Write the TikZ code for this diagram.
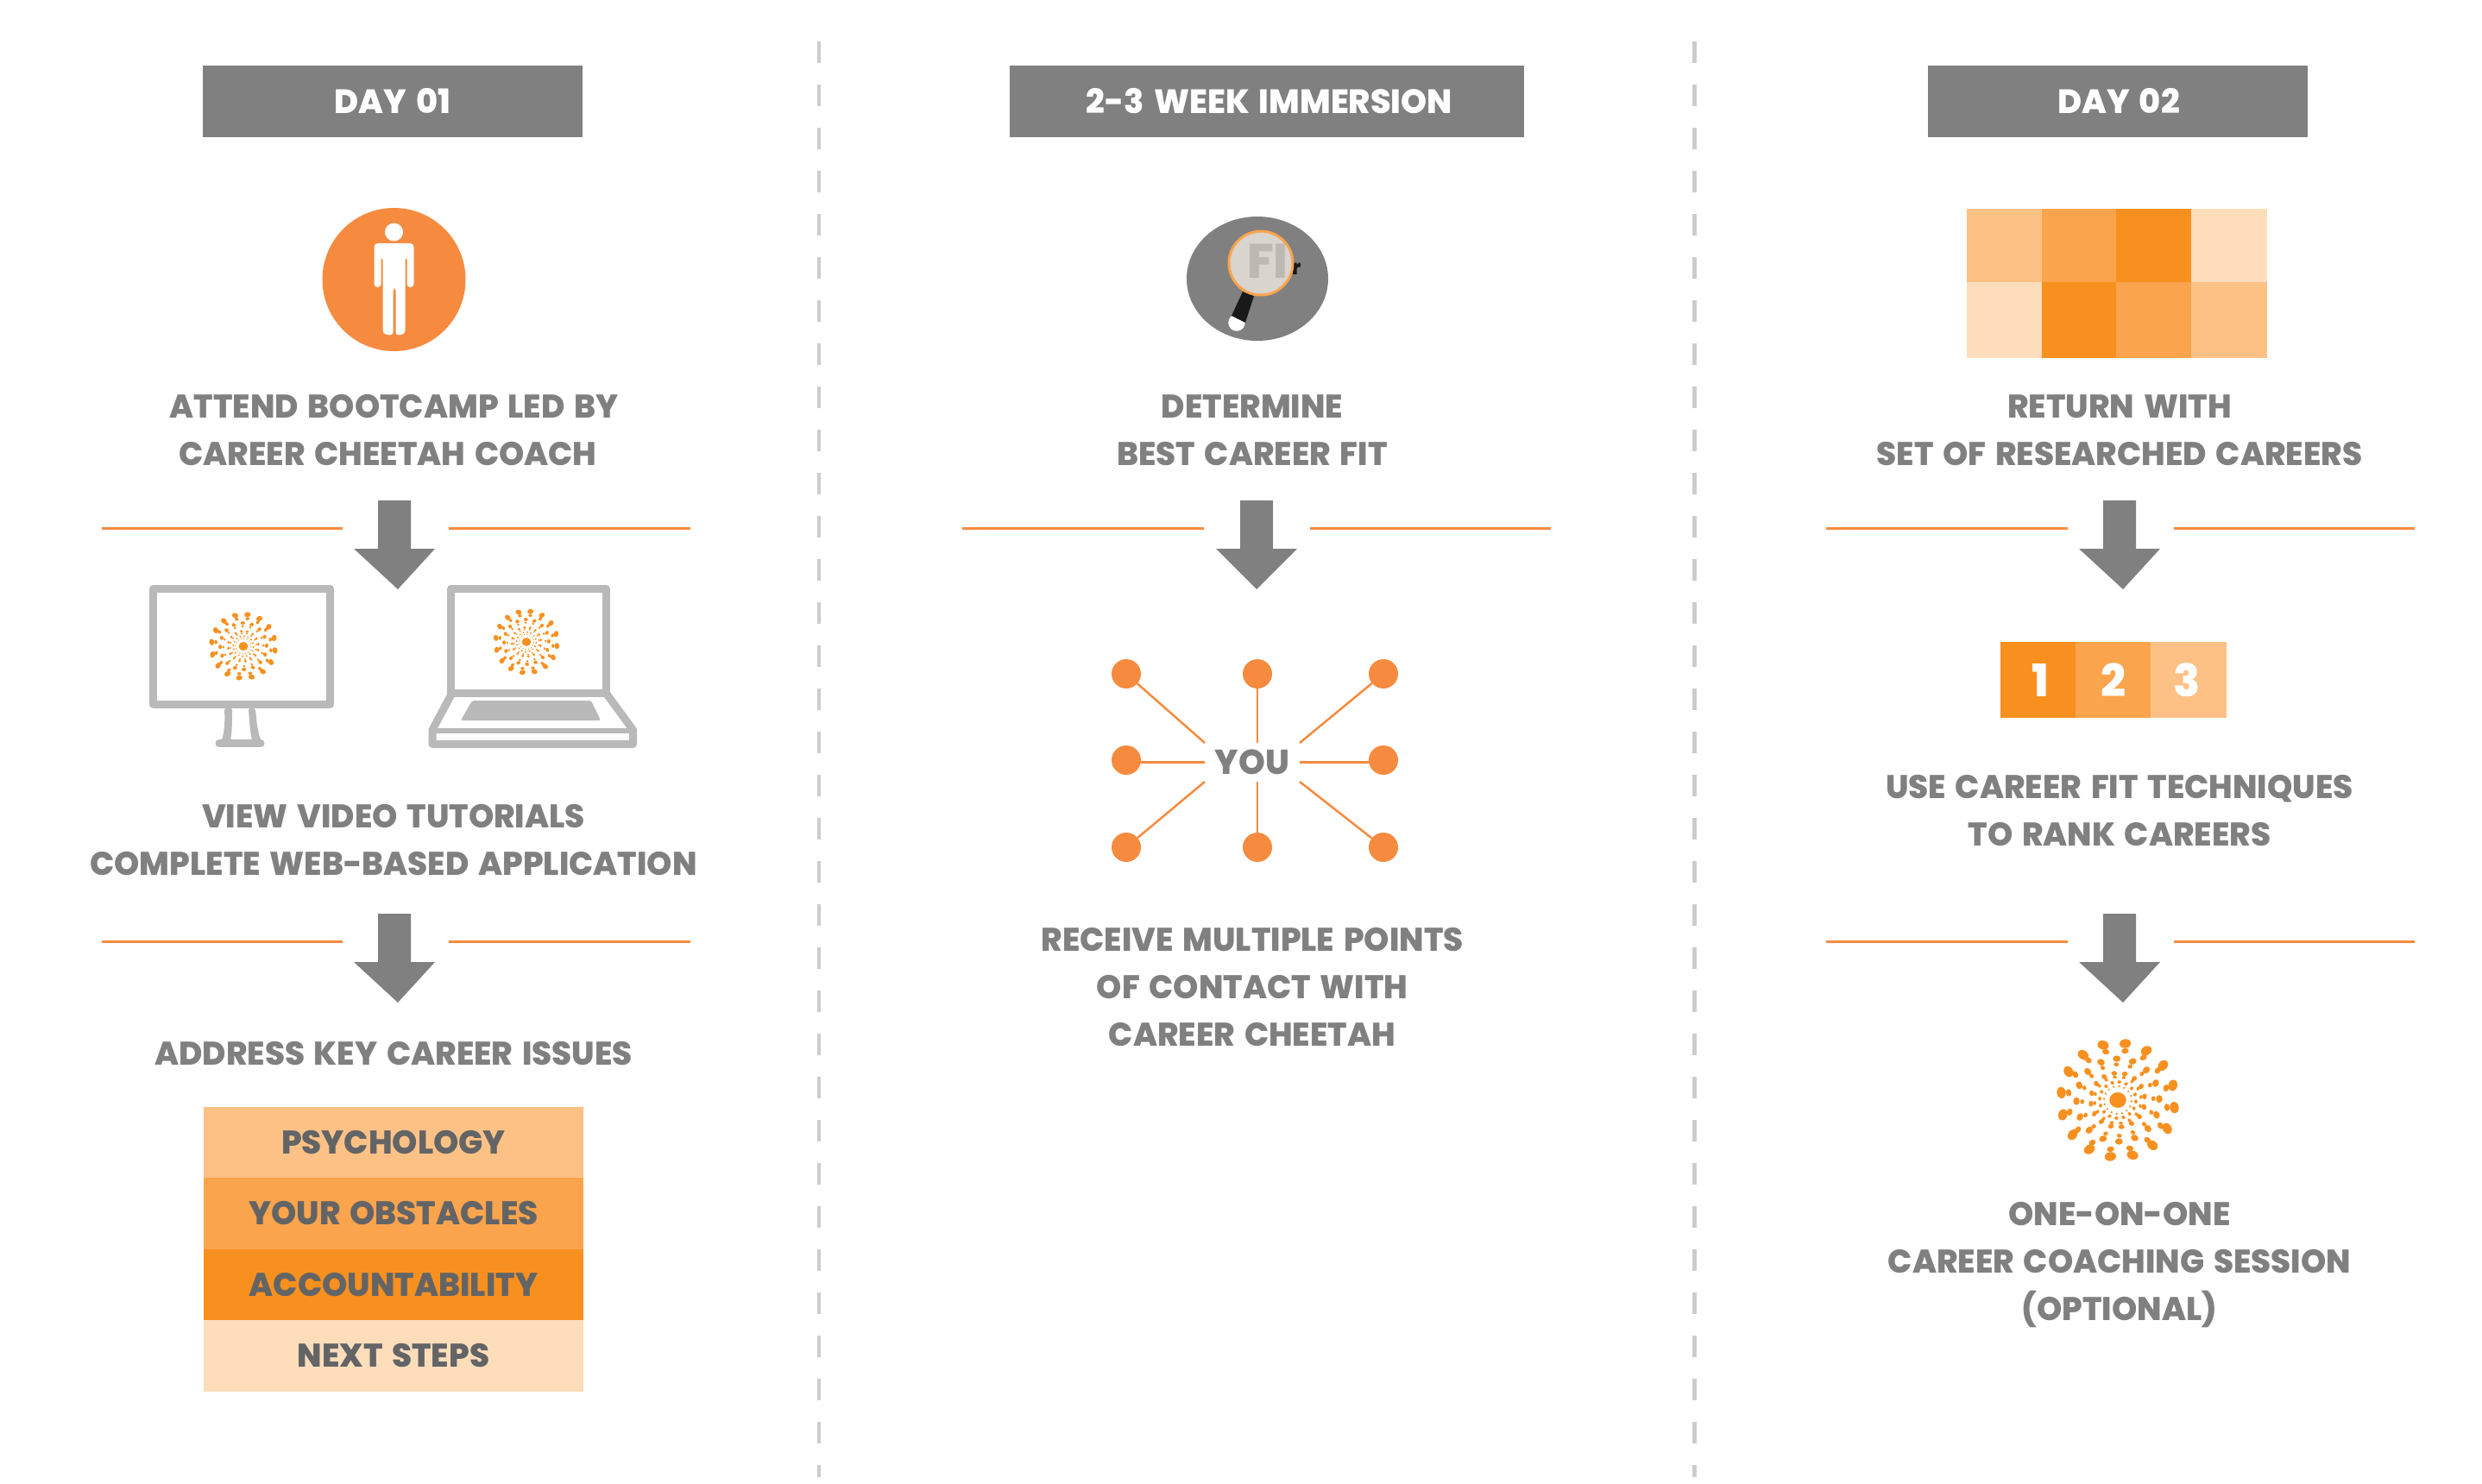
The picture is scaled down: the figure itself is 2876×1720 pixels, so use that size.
\documentclass[tikz,border=0pt]{standalone}
\usepackage{fontspec}
\usepackage{tikz}
\usetikzlibrary{arrows}
\usetikzlibrary{calc}
\setmainfont{Poppins}[BoldFont={Poppins ExtraBold},FakeStretch=0.98,WordSpace=1.5]
\definecolor{cheetah}{HTML}{F68B3F}
\definecolor{burst}{HTML}{F8901F}
\definecolor{tintA}{HTML}{FEDDBB}
\definecolor{tintB}{HTML}{FDC186}
\definecolor{tintC}{HTML}{FAA44D}
\definecolor{tintD}{HTML}{F8901F}
\definecolor{graybar}{HTML}{808080}
\definecolor{grayicon}{HTML}{B9B9B9}
\definecolor{graydash}{HTML}{CCCCCC}
\definecolor{graytext}{HTML}{636466}
\definecolor{lensfill}{HTML}{D9D4CE}
\definecolor{lensfont}{HTML}{BDB8B2}

% starburst logo: centre x, centre y, scale
\newcommand{\burstlogo}[3]{
  \begin{scope}[shift={(#1,#2)},scale=#3]
    \fill[burst] (0,0) ellipse (9.7 and 9);
    \foreach \rad/\ang/\big/\small in {66/7.5/6.6/5.2, 57.6/8.5/4.2/3.2, 48/21/4.5/3.7, 41.3/20/2.8/2.4, 31.3/14.8/3.4/2.7, 27/15/2.3/1.8, 21/4.6/2.3/1.9, 16/5/1.5/1.2}{
      \foreach \k in {0,...,15}{
        \fill[burst,shift={({\rad*cos(\ang+22.5*\k)},{\rad*sin(\ang+22.5*\k)})},rotate={\ang+22.5*\k+90}] (0,0) ellipse (\big pt and \small pt);
      }
    }
  \end{scope}
}

\begin{document}
\begin{tikzpicture}[x=1pt,y=-1pt,
  -,>=stealth',
  heading/.style={fill=graybar,text=white,font=\fontsize{39}{39}\selectfont\bfseries,minimum height=83pt,inner sep=0pt,outer sep=0pt},
  caption/.style={text=graybar,font=\fontsize{38}{55}\selectfont\bfseries,align=center,inner sep=0pt},
  topic/.style={text=graytext,font=\fontsize{38}{38}\selectfont\bfseries,minimum width=440pt,minimum height=82.5pt,inner sep=0pt,outer sep=0pt},
  rank/.style={text=white,font=\fontsize{52}{52}\selectfont\bfseries,minimum height=88pt,inner sep=0pt,outer sep=0pt},
  divider/.style={draw=graydash,line width=4.3pt,dash pattern=on 25pt off 25pt},
  rule/.style={draw=cheetah,line width=2.5pt},
  spoke/.style={draw=cheetah,line width=2.5pt},
  contact/.style={circle,fill=cheetah,minimum size=34pt,inner sep=0pt,outer sep=0pt},
  screen/.style={draw=grayicon,line width=9pt,line join=round}]
  \useasboundingbox (0,0) rectangle (2876,1720);

  % dividers
  \coordinate (topA) at (949,48);
  \coordinate (botA) at (949,1712);
  \coordinate (topB) at (1963.5,48);
  \coordinate (botB) at (1963.5,1712);
  \draw[divider] (topA) -- (botA);
  \draw[divider] (topB) -- (botB);

  % headings
  \node[heading,minimum width=440pt,text depth=2pt] (day1) at (455,117.5) {DAY 01};
  \node[heading,minimum width=596pt,text depth=2pt] (weeks) at (1468,117.5) {\hspace*{6pt}2-3 WEEK IMMERSION};
  \node[heading,minimum width=440pt,text depth=2pt] (day2) at (2454,117.5) {\hspace*{2pt}DAY 02};

  % person
  \node[circle,fill=cheetah,minimum size=166pt,inner sep=0pt] (person) at (456.5,324) {};
  \fill[white] (456.5,269) circle (10.5);
  \fill[white,rounded corners=4pt] (433.5,282) -- (479.5,282) -- (479.5,333) -- (471.5,333) -- (471.5,297) -- (469.5,297) -- (469.5,387) -- (458.5,389) -- (458.5,333) -- (455.5,333) -- (455.5,389) -- (443.5,387) -- (443.5,297) -- (441.5,297) -- (441.5,333) -- (433.5,333) -- cycle;

  % lens
  \fill[graybar] (1457,323) ellipse (82 and 72);
  \fill[white] (1433,374) circle (9.7);
  \fill[black!90] (1440,338) -- (1453,343) -- (1443,374) -- (1427,366) -- cycle;
  \node[inner sep=0pt,text=black!90,font=\fontsize{24}{24}\selectfont\bfseries] (lensr) at (1502,312) {r};
  \node[circle,draw=tintC,line width=3pt,fill=lensfill,minimum size=74pt,inner sep=0pt] (lens) at (1461,305) {};
  \node[inner sep=0pt,text=lensfont,font=\fontsize{56}{56}\selectfont\bfseries] (fit) at (1469,303) {FI};

  % heat map
  \foreach \cx/\cy/\col in {2279/242/tintB,2366/242/tintC,2452/242/tintD,2539/242/tintA,2279/327/tintA,2366/327/tintD,2452/327/tintC,2539/327/tintB}{
    \fill[\col] (\cx,\cy) rectangle ++(87.5,87.5);
  }

  % captions row one
  \node[caption] (attend) at (456.5,499) {ATTEND BOOTCAMP LED BY\\CAREER CHEETAH COACH\hspace*{14pt}};
  \node[caption] (determine) at (1451,499) {DETERMINE\\BEST CAREER FIT};
  \node[caption] (returnwith) at (2456,499) {RETURN WITH\\SET OF RESEARCHED CAREERS};

  % rules and arrows
  \foreach \ax/\tp/\rx/\ay in {457/4/458.5/580,457/4/458.5/1059,1456/0/1456/580,2456/4/2457/580,2456/4/2457/1059}{
    \fill[graybar] (\ax-19,\ay) -- (\ax+19,\ay) -- (\ax+19,\ay+56) -- (\ax+47,\ay+56) -- (\ax+\tp,\ay+103) -- (\ax-47,\ay+56) -- (\ax-19,\ay+56) -- cycle;
    \draw[rule] (\rx-341,\ay+32.5) -- (\rx-61.5,\ay+32.5);
    \draw[rule] (\rx+61.5,\ay+32.5) -- (\rx+341,\ay+32.5);
  }

  % monitor
  \begin{scope}[shift={(-1,-2)}]
    \draw[screen] (178.5,684.5) rectangle (383.5,818.5);
    \fill[grayicon,rounded corners=2pt] (261,823) .. controls (262,845) and (260,855) .. (256,864) -- (254,864) -- (254,867) -- (307,867) -- (307,864) -- (305,864) .. controls (299,850) and (298,835) .. (297,823) -- (289,823) .. controls (290,840) and (291,850) .. (293,860) -- (268,860) .. controls (270,850) and (270,835) .. (270,823) -- cycle;
    \draw[grayicon,line width=9pt,line cap=round] (255,863.5) -- (303,863.5);
  \end{scope}
  \burstlogo{282}{749}{0.56}

  % laptop
  \begin{scope}[shift={(-3,-3)}]
    \draw[screen] (525.5,685.5) rectangle (705.5,806);
    \draw[screen] (527,806) -- (504,849) -- (504,865.5) -- (736.5,865.5) -- (736.5,849) -- (705,806);
    \draw[grayicon,line width=6pt] (504,850) -- (736.5,850);
    \fill[grayicon,rounded corners=2pt] (550,815) -- (688,815) -- (699,838) -- (537,838) -- cycle;
  \end{scope}
  \burstlogo{610}{744}{0.54}

  % contact network
  \node[caption,font=\fontsize{40}{40}\selectfont\bfseries,minimum width=110pt,minimum height=45pt,outer sep=0pt] (you) at (1451,883.5) {YOU};
  \node[contact] (c1) at (1305,781) {};
  \node[contact] (c2) at (1457,781) {};
  \node[contact] (c3) at (1603,781) {};
  \node[contact] (c4) at (1305,881) {};
  \node[contact] (c5) at (1603,881) {};
  \node[contact] (c6) at (1305,982) {};
  \node[contact] (c7) at (1457,982) {};
  \node[contact] (c8) at (1603,982) {};
  \draw[spoke] (c1) -- (you.north west);
  \draw[spoke] (c2) -- (c2 |- you.north);
  \draw[spoke] (c3) -- (you.north east);
  \draw[spoke] (you.west) -- (you.west -| c4);
  \draw[spoke] (you.east) -- (you.east -| c5);
  \draw[spoke] (c6) -- (you.south west);
  \draw[spoke] (c7.north) -- ($(c7 |- you.south)$);
  \draw[spoke] (c8) -- (you.south east);

  % rank boxes
  \node[rank,fill=tintD,minimum width=87pt,text depth=0pt] (rank1) at (2361.5,788) {\hspace*{6pt}1};
  \node[rank,fill=tintC,minimum width=87pt,text depth=0pt] (rank2) at (2448.5,788) {2};
  \node[rank,fill=tintB,minimum width=88pt,text depth=0pt] (rank3) at (2536,788) {3\hspace*{4pt}};

  % captions row two
  \node[caption] (view) at (456,973.5) {VIEW VIDEO TUTORIALS\\COMPLETE WEB-BASED APPLICATION};
  \node[caption] (use) at (2456,940) {USE CAREER FIT TECHNIQUES\\TO RANK CAREERS};
  \node[caption] (receive) at (1451,1144) {RECEIVE MULTIPLE POINTS\\OF CONTACT WITH\\CAREER CHEETAH};
  \node[caption] (address) at (456,1221) {ADDRESS KEY CAREER ISSUES};

  % topics
  \node[topic,fill=tintB] (psychology) at (456,1324) {PSYCHOLOGY};
  \node[topic,fill=tintC] (obstacles) at (456,1406.5) {YOUR OBSTACLES};
  \node[topic,fill=tintD] (account) at (456,1489) {ACCOUNTABILITY};
  \node[topic,fill=tintA] (nextsteps) at (456,1571.5) {NEXT STEPS};

  % closing
  \burstlogo{2454}{1275}{1}
  \node[caption] (session) at (2456,1466.5) {ONE-ON-ONE\\CAREER COACHING SESSION\\(OPTIONAL)};
\end{tikzpicture}
\end{document}
